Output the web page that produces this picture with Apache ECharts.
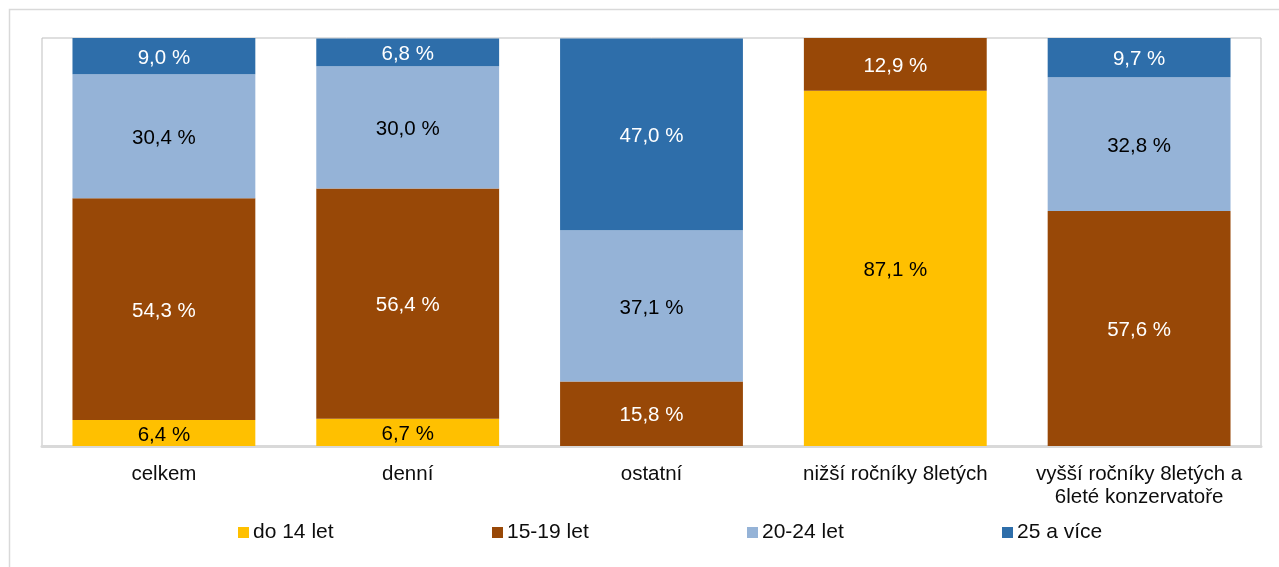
<!DOCTYPE html>
<html>
<head>
<meta charset="utf-8">
<script src="https://cdn.jsdelivr.net/npm/echarts@6/dist/echarts.min.js"></script>
<style>html,body{margin:0;padding:0;background:#fff}#c{width:1279px;height:567px}</style>
</head>
<body>
<div id="c"></div>
<script>
var categories = ['celkem', 'denní', 'ostatní', 'nižší ročníky 8letých', 'vyšší ročníky 8letých a\n6leté konzervatoře'];
var seriesNames = ['do 14 let', '15-19 let', '20-24 let', '25 a více'];
var do14 = [6.4, 6.7, 0, 87.1, 0];
var v15_19 = [54.3, 56.4, 15.8, 12.9, 57.6];
var v20_24 = [30.4, 30.0, 37.1, 0, 32.8];
var v25plus = [9.0, 6.8, 47.0, 0, 9.7];

var colors = ['#FFC000', '#984807', '#95B3D7', '#2E6EAA'];
var labelColors = ['#000000', '#ffffff', '#000000', '#ffffff'];
var values = [do14, v15_19, v20_24, v25plus];
var FONT = 'Liberation Sans, Arial, sans-serif';

var chart = echarts.init(document.getElementById('c'));
var series = values.map(function (arr, i) {
  return {
    name: seriesNames[i],
    type: 'bar',
    stack: 'total',
    barWidth: '75%',
    data: arr,
    itemStyle: { color: colors[i] },
    label: {
      show: true,
      position: 'inside',
      offset: [0, 2],
      color: labelColors[i],
      fontSize: 20.5,
      fontFamily: FONT,
      formatter: function (p) {
        if (!p.value) return '';
        return p.value.toFixed(1).replace('.', ',') + ' %';
      }
    }
  };
});
var legendLefts = [238, 492, 747, 1002];
var legends = seriesNames.map(function (n, i) {
  return {
    data: [n],
    left: legendLefts[i],
    top: 522,
    padding: 0,
    itemWidth: 11,
    itemHeight: 11,
    icon: 'rect',
    itemStyle: { borderWidth: 0 },
    selectedMode: false,
    textStyle: { fontSize: 21, fontFamily: FONT, color: '#0d0d0d', padding: [0, 0, 0, -1] }
  };
});
chart.setOption({
  animation: false,
  backgroundColor: '#ffffff',
  graphic: [{
    type: 'rect',
    shape: { x: 9.5, y: 9.5, width: 1320, height: 620 },
    style: { fill: 'none', stroke: '#d9d9d9', lineWidth: 1.5 },
    silent: true
  }],
  grid: {
    left: 42, top: 38, width: 1219, height: 408,
    show: true, borderColor: '#bfbfbf', borderWidth: 1, containLabel: false
  },
  legend: legends,
  xAxis: {
    type: 'category',
    data: categories,
    axisTick: { show: false },
    axisLine: { show: true, lineStyle: { color: '#d9d9d9', width: 3 } },
    axisLabel: { interval: 0, color: '#0d0d0d', fontSize: 20.5, fontFamily: FONT, margin: 17, lineHeight: 23 }
  },
  yAxis: {
    type: 'value', min: 0, max: 100, show: false,
    splitLine: { show: false }
  },
  series: series
});
</script>
</body>
</html>
